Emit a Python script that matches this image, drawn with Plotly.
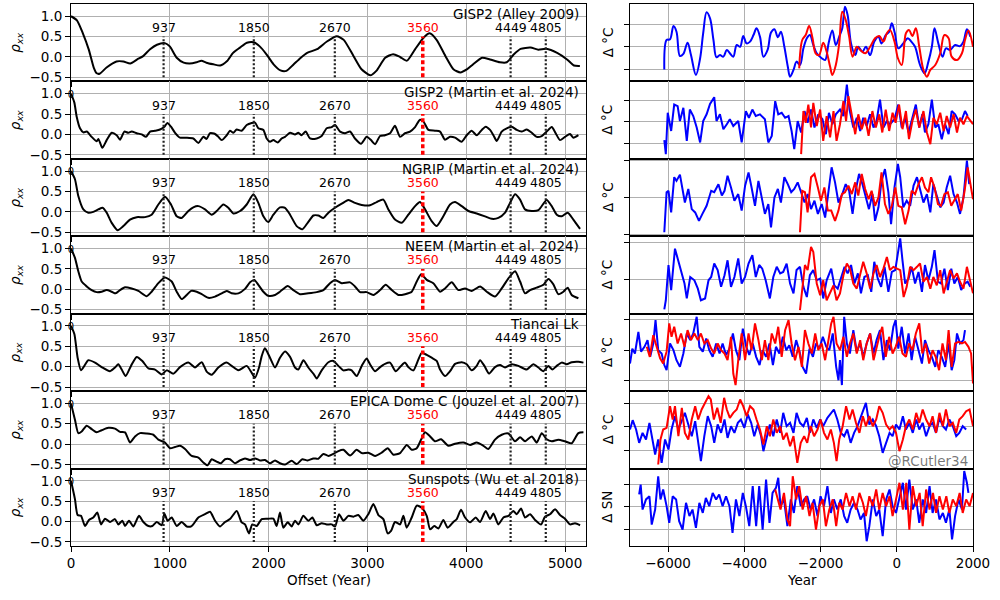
import plotly.graph_objects as go

# ---------------- data ----------------
periods = [937, 1850, 2670, 3560, 4449, 4805]
highlight_period = 3560
left_titles = ["GISP2 (Alley 2009)", "GISP2 (Martin et al. 2024)", "NGRIP (Martin et al. 2024)",
               "NEEM (Martin et al. 2024)", "Tiancai Lk", "EPICA Dome C (Jouzel et al. 2007)",
               "Sunspots (Wu et al 2018)"]
right_ylabels = ["Δ °C", "Δ °C", "Δ °C", "Δ °C", "Δ °C", "Δ °C", "Δ SN"]
left_xticks = [0, 1000, 2000, 3000, 4000, 5000]
left_yticks = [-0.5, 0.0, 0.5, 1.0]
right_xticks = [-6000, -4000, -2000, 0, 2000]
right_yticks = [-1, 0, 1]

# autocorrelation curves: (offset year, rho_xx)
gisp2_alley = [(0,1.00),(60,0.90),(120,0.58),(180,0.18),(230,-0.26),(260,-0.40),(290,-0.41),(360,-0.26),(460,-0.11),(530,-0.11),(600,-0.16),(670,-0.06),(730,0.02),(800,0.19),(870,0.30),(950,0.34),(1000,0.26),(1070,-0.02),(1140,-0.14),(1200,-0.16),(1270,-0.13),(1320,-0.09),(1370,-0.14),(1440,-0.18),(1510,-0.21),(1580,-0.10),(1640,0.10),(1710,0.23),(1780,0.35),(1850,0.36),(1910,0.26),(1980,0.06),(2050,-0.18),(2120,-0.33),(2180,-0.34),(2250,-0.19),(2320,-0.03),(2390,0.10),(2490,0.19),(2590,0.38),(2690,0.51),(2760,0.42),(2860,0.02),(2940,-0.30),(3030,-0.45),(3090,-0.34),(3180,-0.02),(3260,0.07),(3330,0.00),(3400,-0.09),(3480,0.18),(3570,0.48),(3630,0.58),(3700,0.42),(3790,0.02),(3870,-0.30),(3940,-0.38),(4010,-0.30),(4070,-0.18),(4160,-0.02),(4240,-0.06),(4340,-0.13),(4410,-0.13),(4480,0.06),(4550,0.20),(4650,0.23),(4730,0.18),(4810,0.20),(4920,0.10),(5020,-0.06),(5090,-0.21),(5150,-0.22)]
gisp2_martin = [(0,1.00),(34,0.78),(57,0.44),(91,0.15),(125,0.05),(159,0.07),(209,-0.06),(260,-0.17),(277,-0.11),(317,-0.33),(361,-0.14),(412,0.04),(462,-0.02),(496,-0.13),(540,0.07),(580,0.04),(614,0.07),(665,0.03),(715,0.00),(759,-0.06),(800,0.07),(850,0.09),(901,0.12),(945,0.19),(975,0.28),(1012,0.19),(1053,0.04),(1103,-0.08),(1171,-0.08),(1238,-0.10),(1289,-0.21),(1339,-0.06),(1373,-0.11),(1407,0.03),(1458,0.01),(1491,-0.06),(1525,-0.14),(1576,-0.02),(1609,0.09),(1643,0.04),(1677,0.12),(1727,0.09),(1778,0.23),(1829,0.28),(1862,0.29),(1896,0.15),(1947,0.11),(1980,-0.10),(2014,-0.18),(2048,-0.14),(2092,-0.20),(2132,-0.10),(2166,-0.06),(2217,0.04),(2267,0.00),(2301,0.04),(2334,-0.02),(2375,0.07),(2419,-0.10),(2487,-0.10),(2537,-0.04),(2588,0.15),(2638,0.18),(2672,0.23),(2723,0.07),(2773,0.03),(2824,0.07),(2874,-0.10),(2935,-0.23),(2992,-0.06),(3036,-0.14),(3077,-0.24),(3128,-0.04),(3178,-0.02),(3229,0.03),(3279,0.21),(3330,-0.06),(3381,0.03),(3431,0.07),(3482,0.18),(3532,0.36),(3566,0.32),(3617,0.11),(3684,0.09),(3735,0.07),(3785,-0.13),(3836,-0.06),(3887,-0.08),(3954,-0.18),(4005,-0.02),(4055,0.09),(4106,-0.02),(4157,0.11),(4197,0.19),(4241,0.11),(4275,-0.02),(4309,-0.16),(4359,0.07),(4410,0.15),(4460,0.19),(4511,0.11),(4561,0.07),(4612,0.12),(4663,0.04),(4713,-0.06),(4764,-0.04),(4814,0.07),(4865,0.18),(4905,0.03),(4949,-0.14),(4999,-0.06),(5050,0.01),(5084,-0.08),(5135,-0.02)]
ngrip = [(0,1.00),(40,0.80),(74,0.39),(125,0.06),(175,-0.02),(226,0.00),(277,0.06),(320,0.10),(361,-0.02),(412,-0.27),(472,-0.45),(530,-0.35),(597,-0.19),(665,-0.13),(749,-0.13),(816,-0.07),(884,0.18),(951,0.37),(1012,0.18),(1070,-0.11),(1120,-0.15),(1188,0.02),(1238,0.11),(1289,0.14),(1356,0.06),(1424,-0.07),(1474,0.02),(1542,0.18),(1592,0.10),(1643,-0.04),(1711,0.02),(1778,0.18),(1846,0.43),(1896,0.22),(1947,-0.11),(1997,-0.25),(2048,-0.07),(2115,0.11),(2166,0.10),(2217,-0.07),(2284,-0.35),(2341,-0.43),(2395,-0.27),(2453,-0.09),(2503,-0.09),(2554,-0.15),(2605,-0.02),(2672,0.10),(2740,0.20),(2807,0.29),(2874,0.22),(2942,0.17),(3026,0.16),(3094,0.24),(3161,0.30),(3212,0.06),(3279,-0.19),(3347,-0.27),(3414,-0.07),(3482,0.14),(3532,0.24),(3583,0.06),(3650,-0.23),(3701,-0.35),(3768,-0.11),(3836,0.18),(3887,0.24),(3954,0.14),(4022,0.02),(4106,-0.04),(4190,-0.11),(4258,-0.17),(4325,-0.15),(4393,-0.02),(4443,0.22),(4494,0.43),(4545,0.30),(4595,0.06),(4663,0.02),(4730,0.04),(4814,0.29),(4865,0.14),(4916,-0.07),(4966,-0.11),(5027,-0.02),(5084,-0.19),(5152,-0.42)]
neem = [(0,1.00),(40,0.77),(74,0.44),(108,0.19),(159,0.07),(209,-0.02),(260,-0.07),(310,-0.06),(361,-0.02),(412,-0.06),(452,-0.10),(496,-0.02),(547,0.05),(614,0.02),(682,-0.04),(766,-0.17),(816,-0.06),(884,0.15),(951,0.29),(1019,0.19),(1070,-0.06),(1120,-0.24),(1171,-0.14),(1215,-0.04),(1272,-0.06),(1323,-0.12),(1390,-0.21),(1458,-0.18),(1525,-0.10),(1576,-0.04),(1626,-0.10),(1694,-0.10),(1761,0.01),(1812,0.17),(1856,0.23),(1896,0.11),(1947,-0.06),(1997,-0.16),(2065,-0.14),(2115,-0.06),(2193,0.08),(2250,-0.02),(2318,-0.12),(2402,-0.10),(2487,-0.07),(2554,-0.02),(2621,0.15),(2672,0.23),(2740,0.15),(2824,0.17),(2874,0.07),(2925,-0.07),(2992,-0.07),(3060,-0.14),(3128,-0.02),(3185,0.11),(3246,-0.02),(3313,-0.14),(3381,-0.12),(3448,-0.06),(3499,0.19),(3543,0.37),(3600,0.23),(3667,0.15),(3735,-0.06),(3785,0.02),(3853,0.17),(3920,-0.02),(3988,0.02),(4055,-0.04),(4140,0.07),(4207,-0.06),(4291,-0.18),(4359,0.02),(4427,0.27),(4494,0.44),(4545,0.19),(4595,-0.10),(4646,-0.02),(4713,0.04),(4781,0.11),(4831,0.25),(4882,0.12),(4932,-0.12),(4983,-0.06),(5027,0.04),(5067,-0.14),(5135,-0.22)]
tiancai = [(0,1.00),(34,0.80),(67,0.22),(101,-0.09),(135,0.02),(175,0.16),(243,0.10),(310,-0.01),(395,-0.11),(445,-0.02),(479,0.06),(513,-0.07),(553,-0.23),(607,0.02),(665,0.24),(722,0.14),(783,-0.04),(850,-0.07),(918,-0.19),(968,-0.09),(1036,-0.17),(1103,-0.01),(1188,0.10),(1255,-0.02),(1323,0.11),(1373,-0.12),(1424,-0.20),(1491,-0.02),(1576,0.10),(1626,0.02),(1694,-0.09),(1778,0.02),(1829,-0.15),(1862,-0.27),(1903,-0.02),(1930,0.26),(1963,0.45),(2014,0.22),(2065,-0.02),(2115,0.22),(2166,0.37),(2217,0.24),(2267,-0.02),(2301,-0.07),(2352,0.16),(2402,-0.02),(2453,-0.17),(2487,-0.29),(2537,-0.09),(2605,0.11),(2655,0.14),(2706,0.02),(2757,-0.09),(2807,-0.07),(2841,-0.09),(2891,-0.23),(2942,0.02),(2992,0.20),(3026,0.06),(3077,-0.11),(3128,-0.01),(3178,0.07),(3229,0.10),(3286,-0.11),(3340,0.02),(3381,0.10),(3414,-0.01),(3465,-0.09),(3516,0.18),(3549,0.34),(3600,0.29),(3650,0.22),(3701,0.14),(3735,-0.07),(3785,-0.23),(3836,-0.11),(3887,0.07),(3954,0.11),(4005,0.06),(4055,-0.09),(4106,0.02),(4140,0.16),(4184,0.02),(4231,-0.17),(4291,-0.01),(4342,0.04),(4393,-0.02),(4460,0.06),(4528,0.02),(4612,-0.07),(4679,0.06),(4730,-0.02),(4781,-0.11),(4831,0.02),(4872,-0.07),(4916,0.02),(4966,0.10),(5017,0.06),(5067,0.11),(5135,0.12),(5186,0.10)]
epica = [(0,1.00),(40,0.60),(74,0.27),(108,0.31),(159,0.45),(209,0.37),(260,0.29),(310,0.34),(378,0.40),(445,0.38),(496,0.30),(547,0.29),(597,0.04),(648,0.19),(698,0.27),(766,0.26),(833,0.23),(884,0.11),(951,0.04),(1002,-0.10),(1053,-0.07),(1103,-0.04),(1154,-0.12),(1221,-0.29),(1289,-0.33),(1339,-0.45),(1383,-0.52),(1424,-0.37),(1474,-0.43),(1518,-0.47),(1559,-0.37),(1609,-0.37),(1660,-0.47),(1711,-0.40),(1761,-0.35),(1812,-0.39),(1862,-0.35),(1913,-0.40),(1964,-0.39),(2014,-0.47),(2065,-0.40),(2115,-0.47),(2166,-0.50),(2233,-0.41),(2284,-0.49),(2341,-0.37),(2395,-0.40),(2453,-0.35),(2503,-0.36),(2554,-0.24),(2605,-0.29),(2655,-0.24),(2706,-0.17),(2757,-0.14),(2824,-0.28),(2891,-0.14),(2942,-0.22),(3009,-0.21),(3077,-0.29),(3144,-0.21),(3205,-0.10),(3263,-0.26),(3330,-0.22),(3398,-0.02),(3448,-0.14),(3499,-0.10),(3543,0.11),(3583,0.29),(3634,0.19),(3684,0.07),(3745,0.12),(3819,-0.04),(3887,0.01),(3971,0.04),(4039,-0.02),(4106,0.04),(4174,-0.04),(4224,-0.12),(4291,0.11),(4359,0.23),(4427,0.26),(4494,0.07),(4545,0.17),(4595,0.07),(4663,0.19),(4713,0.04),(4764,0.27),(4814,0.12),(4865,0.07),(4932,0.11),(4999,0.07),(5067,0.02),(5135,0.27),(5186,0.29)]
sunspots = [(0,1.00),(40,0.55),(67,0.16),(101,0.14),(142,-0.11),(182,0.04),(226,0.10),(266,0.22),(304,-0.07),(344,0.07),(395,-0.01),(445,0.06),(479,-0.07),(520,0.02),(547,-0.11),(587,0.02),(631,-0.12),(688,0.14),(732,-0.01),(783,-0.11),(823,-0.11),(867,-0.01),(918,-0.09),(945,0.20),(978,0.02),(1019,0.10),(1070,-0.11),(1120,-0.01),(1171,-0.12),(1221,-0.11),(1289,0.10),(1356,0.18),(1407,0.24),(1458,0.02),(1508,-0.12),(1559,-0.01),(1609,0.06),(1677,0.26),(1727,-0.02),(1761,-0.07),(1801,-0.29),(1835,-0.07),(1879,-0.11),(1930,0.06),(1997,0.07),(2048,0.07),(2081,-0.11),(2115,0.22),(2149,-0.15),(2193,-0.02),(2233,-0.12),(2267,0.02),(2301,-0.07),(2352,0.14),(2402,0.02),(2443,0.10),(2487,-0.09),(2537,-0.04),(2588,-0.07),(2638,-0.07),(2672,-0.12),(2713,0.18),(2757,0.02),(2807,0.14),(2858,0.12),(2908,0.16),(2959,0.02),(3009,0.18),(3060,0.43),(3111,0.16),(3161,0.06),(3205,-0.29),(3239,-0.23),(3279,-0.01),(3330,-0.07),(3364,0.14),(3397,-0.15),(3448,0.10),(3499,0.39),(3549,0.34),(3600,0.14),(3634,-0.19),(3677,-0.11),(3718,-0.17),(3768,0.04),(3812,-0.15),(3870,-0.01),(3904,0.06),(3947,0.29),(3988,0.10),(4039,-0.02),(4096,0.10),(4140,-0.01),(4197,0.26),(4241,0.06),(4275,0.20),(4325,-0.07),(4376,0.10),(4427,0.14),(4477,0.26),(4511,0.18),(4555,0.32),(4595,0.10),(4646,0.18),(4696,0.04),(4757,-0.07),(4797,0.12),(4848,0.18),(4899,0.30),(4949,0.16),(4999,0.07),(5050,-0.07),(5101,-0.04),(5152,-0.09)]

# time series (year, anomaly in tick units): blue = record, red = shifted copy
r1_blue = [(-6100,-1.00),(-6040,0.31),(-5950,0.34),(-5860,0.93),(-5780,0.68),(-5690,-0.40),(-5600,-0.31),(-5490,0.19),(-5400,-0.36),(-5270,-1.24),(-5160,-0.50),(-5080,0.61),(-4990,1.54),(-4900,1.27),(-4810,0.31),(-4730,-0.46),(-4640,-0.36),(-4550,-0.43),(-4460,-0.13),(-4380,-0.28),(-4290,-0.43),(-4200,0.09),(-4110,0.01),(-4030,0.49),(-3940,0.16),(-3850,0.24),(-3760,0.53),(-3680,0.83),(-3590,0.46),(-3500,-0.43),(-3390,-0.13),(-3300,0.64),(-3210,0.79),(-3120,0.43),(-3040,0.68),(-2950,0.01),(-2860,-0.87),(-2800,-1.32),(-2710,-1.02),(-2630,-0.65),(-2540,-0.80),(-2450,-0.06),(-2360,0.39),(-2280,0.53),(-2190,0.09),(-2100,-0.28),(-1970,-0.50),(-1880,-0.58),(-1790,0.16),(-1690,0.73),(-1600,0.09),(-1510,0.46),(-1430,0.83),(-1360,1.79),(-1290,1.42),(-1200,0.16),(-1090,-0.36),(-1010,0.01),(-900,-0.21),(-810,0.01),(-700,-0.36),(-590,0.24),(-480,0.46),(-400,0.16),(-290,0.53),(-200,0.68),(-130,1.05),(-50,0.61),(40,-0.06),(170,0.16),(290,0.39),(380,0.24),(480,0.01),(610,-0.80),(730,-1.17),(830,-0.65),(920,0.01),(990,0.83),(1090,0.16),(1200,-0.43),(1290,-0.06),(1400,-0.13),(1530,0.09),(1660,0.04),(1750,0.24),(1840,0.79),(1930,0.46)]
r1_red = [(-2560,-0.95),(-2480,0.31),(-2390,0.53),(-2300,0.93),(-2210,0.39),(-2130,-0.28),(-2040,-0.36),(-1930,0.19),(-1840,-0.21),(-1750,-0.87),(-1690,-1.24),(-1600,-0.80),(-1510,0.16),(-1430,1.57),(-1340,1.20),(-1250,0.46),(-1160,-0.43),(-1050,0.01),(-960,-0.13),(-830,-0.28),(-700,0.01),(-570,0.39),(-460,0.49),(-350,0.24),(-260,0.61),(-180,0.76),(-60,0.24),(30,-0.50),(130,-0.80),(240,0.61),(320,0.76),(410,0.49),(500,0.83),(590,0.01),(700,-1.02),(790,-1.32),(880,-1.02),(1010,-0.80),(1140,-0.28),(1250,0.53),(1360,0.39),(1440,-0.43),(1580,-0.58),(1710,-0.28),(1790,0.31),(1880,0.73),(2000,0.01)]
r2_blue = [(-6100,-0.85),(-6060,-1.50),(-6010,0.41),(-5920,-0.43),(-5840,0.79),(-5750,0.72),(-5690,0.03),(-5600,0.64),(-5510,-0.89),(-5430,0.56),(-5340,0.26),(-5250,-0.27),(-5160,-0.96),(-5080,0.03),(-4990,0.34),(-4900,0.82),(-4790,1.13),(-4730,0.03),(-4640,0.34),(-4550,-0.35),(-4460,-0.12),(-4380,0.11),(-4290,-0.20),(-4160,0.03),(-4070,-0.96),(-3960,0.49),(-3880,0.18),(-3790,0.56),(-3700,0.26),(-3590,0.34),(-3460,0.11),(-3370,-0.96),(-3280,-0.66),(-3190,0.95),(-3110,0.34),(-3020,0.41),(-2930,0.18),(-2840,0.26),(-2760,-0.43),(-2690,-1.27),(-2600,0.03),(-2510,-0.50),(-2420,0.49),(-2340,-0.05),(-2250,0.56),(-2160,-0.27),(-2060,0.34),(-1950,0.11),(-1860,-0.58),(-1780,0.41),(-1690,-0.12),(-1600,0.34),(-1490,0.56),(-1400,0.26),(-1310,1.71),(-1240,0.56),(-1140,-0.27),(-1050,0.18),(-960,-0.43),(-880,0.18),(-790,-0.20),(-700,0.34),(-610,-0.27),(-530,0.03),(-440,1.02),(-350,-0.27),(-260,0.03),(-180,-0.12),(-60,0.11),(40,0.79),(130,-0.27),(220,0.18),(310,-0.50),(390,0.03),(500,0.79),(590,-0.27),(670,0.34),(740,-0.50),(830,-0.12),(920,1.02),(1010,-0.27),(1090,-0.12),(1180,-0.81),(1270,-0.12),(1360,-0.58),(1440,0.49),(1530,0.34),(1620,0.03),(1710,0.11),(1790,0.49),(1860,0.26)]
r2_red = [(-2510,-1.50),(-2450,0.49),(-2390,-0.05),(-2320,0.79),(-2250,-0.27),(-2190,0.87),(-2100,-0.20),(-2010,0.56),(-1930,-0.89),(-1840,0.26),(-1750,-0.73),(-1660,0.49),(-1580,-0.89),(-1490,-0.12),(-1400,0.95),(-1330,0.03),(-1270,1.18),(-1180,0.34),(-1090,-0.58),(-1010,0.34),(-920,-0.35),(-830,0.18),(-740,-0.66),(-640,0.49),(-550,-0.27),(-460,0.34),(-380,-0.50),(-290,0.56),(-200,-0.43),(-110,0.41),(-30,-0.05),(60,0.79),(150,-0.35),(240,0.49),(320,-0.81),(410,0.03),(500,0.56),(590,-0.27),(700,0.49),(790,-0.50),(880,-1.04),(960,0.18),(1050,-0.12),(1140,0.41),(1230,-0.43),(1310,0.26),(1400,-0.27),(1490,0.34),(1580,-0.50),(1660,0.18),(1750,-0.12),(1840,0.26),(1930,0.03),(2000,-0.12)]
r3_blue = [(-6100,-0.95),(-6040,0.14),(-5990,0.18),(-5920,-0.41),(-5840,0.55),(-5780,0.45),(-5690,0.62),(-5630,0.27),(-5560,-0.14),(-5470,0.23),(-5380,-0.32),(-5290,-0.41),(-5190,-0.64),(-5100,-0.45),(-4990,-0.23),(-4870,0.18),(-4790,0.14),(-4680,0.36),(-4590,0.05),(-4520,0.18),(-4440,0.59),(-4350,0.27),(-4260,-0.09),(-4160,0.09),(-4070,-0.36),(-3980,0.32),(-3890,0.68),(-3810,0.27),(-3720,-0.23),(-3630,0.45),(-3540,0.00),(-3460,-0.45),(-3370,-0.18),(-3300,-0.82),(-3210,0.00),(-3120,0.23),(-3040,-0.14),(-2950,0.55),(-2860,0.36),(-2770,0.14),(-2690,0.23),(-2600,0.41),(-2510,0.14),(-2420,-0.14),(-2340,0.09),(-2250,-0.32),(-2160,-0.09),(-2070,-0.45),(-1970,-0.18),(-1880,-0.55),(-1790,0.18),(-1710,0.82),(-1620,0.41),(-1530,-0.14),(-1430,0.09),(-1340,0.36),(-1250,0.18),(-1160,-0.45),(-1080,0.18),(-990,0.64),(-900,0.36),(-810,0.00),(-730,-0.32),(-640,0.09),(-570,-0.64),(-480,-0.27),(-400,0.45),(-310,0.77),(-220,0.14),(-150,-0.73),(-60,0.27),(30,0.91),(90,0.55),(170,-0.27),(260,-0.09),(350,-0.23),(440,0.32),(530,0.55),(610,0.23),(700,-0.14),(790,0.09),(880,-0.41),(960,0.36),(1050,0.05),(1140,-0.27),(1230,-0.14),(1310,0.27),(1400,0.59),(1490,0.09),(1580,-0.14),(1660,-0.45),(1750,0.00),(1840,1.00),(1900,0.36)]
r3_red = [(-2540,-0.95),(-2480,0.18),(-2410,0.14),(-2340,-0.41),(-2250,0.55),(-2160,0.64),(-2070,0.27),(-1990,-0.09),(-1900,0.27),(-1810,-0.36),(-1720,-0.36),(-1620,-0.64),(-1530,-0.36),(-1440,0.09),(-1360,0.14),(-1270,0.32),(-1180,0.09),(-1090,0.41),(-1010,0.05),(-920,0.64),(-830,0.23),(-740,-0.05),(-660,0.18),(-570,-0.23),(-480,0.00),(-400,0.68),(-310,-0.18),(-220,-0.45),(-130,-0.23),(-40,0.27),(40,-0.23),(130,-0.27),(220,-0.73),(310,-0.36),(390,0.18),(480,0.09),(570,0.36),(660,0.55),(740,0.27),(830,0.14),(900,0.55),(990,0.27),(1080,-0.18),(1160,-0.23),(1250,0.09),(1340,0.14),(1430,-0.23),(1510,-0.09),(1600,0.09),(1690,-0.36),(1780,0.18),(1860,0.82),(1930,0.36),(2000,-0.05)]
r4_blue = [(-6100,-0.83),(-6060,-0.58),(-5990,0.39),(-5920,-0.30),(-5820,0.84),(-5730,0.52),(-5660,0.25),(-5570,-0.12),(-5510,-0.53),(-5420,0.06),(-5310,-0.03),(-5220,-0.26),(-5140,-0.58),(-5030,-0.53),(-4940,-0.03),(-4870,0.06),(-4790,0.43),(-4700,0.25),(-4610,-0.21),(-4520,0.11),(-4440,0.52),(-4350,-0.21),(-4260,0.06),(-4160,0.57),(-4070,-0.12),(-3980,0.06),(-3890,0.43),(-3790,0.66),(-3700,0.06),(-3610,0.39),(-3530,0.29),(-3440,-0.03),(-3330,-0.53),(-3240,0.06),(-3150,0.34),(-3060,0.16),(-2980,0.20),(-2890,0.43),(-2800,-0.12),(-2710,-0.39),(-2630,0.25),(-2540,0.34),(-2450,-0.21),(-2360,-0.49),(-2280,0.11),(-2190,0.25),(-2100,-0.03),(-2010,0.02),(-1930,-0.53),(-1840,-0.03),(-1720,0.29),(-1640,-0.17),(-1550,-0.26),(-1460,0.06),(-1370,0.34),(-1290,0.16),(-1200,0.39),(-1110,-0.12),(-1020,0.16),(-940,-0.39),(-850,0.06),(-760,0.11),(-670,-0.35),(-590,0.48),(-500,0.02),(-410,-0.21),(-320,0.34),(-220,-0.35),(-130,0.20),(-40,0.25),(30,0.71),(90,1.12),(150,0.52),(220,-0.12),(310,0.02),(390,0.34),(480,-0.12),(570,0.20),(660,-0.35),(740,0.39),(830,-0.03),(920,0.34),(990,0.80),(1080,-0.07),(1160,-0.12),(1250,0.29),(1340,-0.30),(1430,0.29),(1510,-0.12),(1600,0.06),(1690,-0.30),(1780,-0.12),(1860,-0.07),(1930,-0.21)]
r4_red = [(-2540,-0.85),(-2480,-0.21),(-2410,0.39),(-2340,0.25),(-2250,0.89),(-2190,0.75),(-2100,-0.12),(-2010,-0.44),(-1930,-0.03),(-1840,-0.58),(-1750,-0.39),(-1660,-0.17),(-1580,-0.58),(-1490,-0.39),(-1400,0.11),(-1310,0.43),(-1230,0.29),(-1140,-0.12),(-1050,-0.26),(-960,0.16),(-880,0.48),(-790,0.16),(-700,-0.26),(-610,0.16),(-530,0.39),(-440,0.06),(-350,0.29),(-260,0.61),(-180,0.25),(-90,0.34),(0,0.29),(90,0.25),(180,-0.49),(260,-0.21),(350,0.34),(440,0.25),(530,0.34),(610,0.43),(700,-0.07),(790,0.06),(880,-0.26),(960,0.06),(1050,-0.17),(1140,0.25),(1230,-0.39),(1310,-0.07),(1400,0.25),(1490,0.02),(1580,0.16),(1660,-0.07),(1750,-0.26),(1840,0.34),(1930,-0.03),(2000,-0.39)]
r5_blue = [(-7000,-0.44),(-6940,0.05),(-6870,-0.11),(-6780,0.60),(-6710,-0.05),(-6620,0.11),(-6540,0.33),(-6470,-0.22),(-6390,0.22),(-6330,0.99),(-6260,0.00),(-6170,-0.11),(-6100,-0.49),(-6040,-0.66),(-5950,0.22),(-5860,0.00),(-5780,-0.33),(-5690,-0.55),(-5600,-0.11),(-5510,0.55),(-5420,0.33),(-5340,0.55),(-5250,1.10),(-5180,0.11),(-5090,-0.05),(-5000,0.38),(-4920,0.00),(-4830,-0.22),(-4740,0.22),(-4650,-0.11),(-4570,0.22),(-4480,-0.16),(-4390,0.05),(-4300,0.55),(-4220,0.00),(-4130,-0.33),(-4040,0.71),(-3950,0.11),(-3870,-0.16),(-3780,0.22),(-3690,-0.22),(-3600,-0.49),(-3520,0.00),(-3430,-0.22),(-3340,0.22),(-3250,-0.49),(-3170,0.11),(-3080,-0.11),(-2990,0.44),(-2900,0.00),(-2820,0.16),(-2730,-0.22),(-2640,0.33),(-2550,-0.05),(-2470,-0.55),(-2380,-0.77),(-2290,0.05),(-2200,-0.22),(-2120,0.22),(-2030,0.05),(-1940,0.44),(-1850,0.11),(-1770,0.00),(-1680,0.55),(-1590,-0.55),(-1530,-0.99),(-1490,-0.33),(-1440,-1.15),(-1380,1.10),(-1310,0.22),(-1230,-0.11),(-1140,0.66),(-1050,-0.05),(-960,0.22),(-880,-0.22),(-790,0.22),(-700,0.55),(-610,-0.11),(-530,0.33),(-440,0.66),(-350,-0.33),(-260,0.33),(-180,0.00),(-90,0.77),(-30,0.99),(40,0.05),(130,0.77),(220,-0.11),(310,0.55),(390,-0.33),(480,0.44),(570,-0.05),(660,-0.44),(740,0.33),(830,0.00),(920,-0.22),(1010,-0.55),(1090,0.00),(1180,-0.22),(1270,-0.55),(1360,0.22),(1440,-0.66),(1510,-0.33),(1580,0.55),(1660,0.22),(1750,0.33),(1790,0.66)]
r5_red = [(-6560,0.11),(-6480,-0.22),(-6390,0.49),(-6300,0.11),(-6210,-0.27),(-6130,-0.44),(-6040,-0.05),(-5970,0.88),(-5910,0.44),(-5840,0.77),(-5750,0.22),(-5660,0.55),(-5570,0.11),(-5490,0.66),(-5400,0.33),(-5310,0.55),(-5220,0.33),(-5140,0.55),(-5050,0.22),(-4960,0.33),(-4870,0.05),(-4790,-0.11),(-4700,0.22),(-4610,0.00),(-4520,-0.11),(-4440,-0.33),(-4350,0.44),(-4290,-0.77),(-4230,-1.15),(-4160,-0.33),(-4070,0.55),(-3980,-0.33),(-3890,0.55),(-3810,0.00),(-3720,0.88),(-3630,0.33),(-3540,-0.33),(-3460,0.33),(-3370,-0.33),(-3280,0.55),(-3190,0.22),(-3110,0.77),(-3020,-0.22),(-2930,0.66),(-2840,0.99),(-2760,0.22),(-2670,-0.33),(-2580,0.11),(-2490,-0.55),(-2410,0.66),(-2320,0.22),(-2230,-0.11),(-2140,0.55),(-2060,0.00),(-1970,0.22),(-1880,-0.33),(-1790,0.44),(-1720,0.88),(-1660,1.10),(-1580,0.22),(-1490,0.00),(-1400,0.44),(-1310,-0.22),(-1230,0.22),(-1140,0.55),(-1050,-0.11),(-960,0.33),(-880,-0.33),(-790,0.22),(-700,0.55),(-610,-0.33),(-530,0.11),(-440,0.55),(-380,0.77),(-290,-0.22),(-200,0.44),(-110,-0.11),(-30,0.11),(60,0.44),(150,-0.11),(240,-0.22),(320,0.22),(410,0.00),(500,0.55),(590,0.88),(670,-0.11),(760,0.22),(850,-0.44),(940,0.00),(1020,-0.22),(1110,-0.66),(1200,0.22),(1290,-0.33),(1360,0.66),(1440,-0.55),(1530,0.22),(1620,0.27),(1710,0.22),(1790,0.27),(1880,0.11),(1950,-0.11),(2000,-1.10)]
r6_blue = [(-7000,-0.11),(-6930,0.28),(-6840,-0.11),(-6760,-0.67),(-6670,-0.25),(-6580,-0.53),(-6490,0.17),(-6410,-0.60),(-6340,-1.16),(-6260,-0.53),(-6170,-1.51),(-6080,-0.53),(-5990,-0.95),(-5910,-0.11),(-5820,0.45),(-5730,-0.11),(-5640,0.31),(-5560,0.59),(-5470,0.10),(-5380,-0.39),(-5290,0.24),(-5210,-0.67),(-5140,-1.44),(-5050,-0.39),(-4960,0.45),(-4870,0.03),(-4790,-0.67),(-4700,0.10),(-4610,-0.25),(-4520,0.31),(-4440,-0.46),(-4350,0.03),(-4260,-0.25),(-4170,0.17),(-4090,0.31),(-4000,-0.04),(-3910,0.52),(-3820,0.17),(-3740,-0.39),(-3650,0.10),(-3560,-0.39),(-3500,-1.02),(-3410,-0.39),(-3330,0.10),(-3240,-0.39),(-3150,0.31),(-3060,-0.25),(-2980,0.59),(-2890,0.03),(-2800,0.17),(-2710,-0.25),(-2630,0.59),(-2540,0.17),(-2450,0.03),(-2360,0.38),(-2280,-0.25),(-2190,0.31),(-2100,-0.04),(-2010,0.31),(-1930,0.03),(-1820,0.38),(-1730,0.59),(-1650,0.73),(-1560,0.31),(-1470,-0.25),(-1380,-0.39),(-1300,-0.11),(-1210,-0.67),(-1120,-0.25),(-1030,0.03),(-950,0.38),(-860,0.73),(-810,1.01),(-720,0.10),(-630,0.31),(-540,0.03),(-460,-0.39),(-370,-1.09),(-280,-0.67),(-190,-0.25),(-110,-0.39),(-20,0.10),(70,-0.11),(160,0.45),(240,-0.11),(330,0.17),(420,-0.25),(510,0.31),(590,-0.11),(680,0.17),(770,-0.39),(860,0.03),(940,0.17),(1030,-0.25),(1120,0.38),(1210,0.03),(1290,-0.11),(1380,0.31),(1470,0.03),(1560,-0.39),(1640,-0.25),(1730,0.03),(1820,-0.11)]
r6_red = [(-6260,-1.58),(-6200,-0.53),(-6130,-0.11),(-6040,-0.04),(-5950,0.87),(-5880,0.31),(-5820,0.87),(-5730,-0.39),(-5640,0.80),(-5560,-0.25),(-5470,-0.53),(-5380,0.31),(-5290,0.87),(-5210,0.31),(-5120,0.73),(-5030,1.01),(-4940,1.29),(-4880,1.15),(-4800,0.31),(-4710,0.80),(-4620,0.17),(-4530,1.22),(-4460,0.73),(-4380,0.38),(-4290,0.59),(-4200,0.73),(-4110,1.15),(-4030,0.87),(-3940,0.45),(-3850,0.87),(-3760,0.73),(-3680,0.31),(-3590,-0.11),(-3500,-0.74),(-3410,0.03),(-3330,-0.39),(-3240,0.31),(-3150,-0.25),(-3060,0.03),(-2980,-0.53),(-2890,-0.25),(-2800,-0.81),(-2710,-0.39),(-2610,-1.51),(-2520,-0.67),(-2430,-0.39),(-2350,-0.67),(-2260,0.03),(-2170,-0.39),(-2080,-0.11),(-2000,0.31),(-1910,-0.25),(-1820,-0.53),(-1730,-0.11),(-1650,-0.67),(-1580,-1.44),(-1510,-0.53),(-1420,0.03),(-1330,0.87),(-1240,0.31),(-1160,0.73),(-1070,0.17),(-980,-0.25),(-890,0.45),(-810,0.03),(-720,0.45),(-630,0.03),(-540,0.31),(-460,0.87),(-370,0.59),(-280,0.10),(-190,-0.11),(-110,0.03),(-20,-0.25),(70,-1.02),(160,-0.53),(240,0.03),(330,0.31),(420,-0.11),(510,0.59),(590,0.17),(680,0.73),(770,0.31),(860,0.03),(940,0.45),(1030,-0.25),(1120,0.59),(1210,0.03),(1290,0.73),(1380,0.03),(1470,0.17),(1560,-0.25),(1640,0.31),(1730,0.45),(1820,0.66),(1910,0.73),(2000,0.03)]
r7_blue = [(-6760,0.55),(-6720,0.99),(-6670,-0.12),(-6580,0.33),(-6490,0.47),(-6430,-0.79),(-6340,-0.12),(-6260,1.36),(-6200,0.33),(-6130,0.77),(-6040,0.03),(-5970,-0.71),(-5880,0.47),(-5790,0.33),(-5710,-0.64),(-5620,-1.01),(-5530,0.18),(-5440,-0.41),(-5360,-0.12),(-5270,-0.93),(-5180,0.18),(-5090,-0.27),(-5010,0.40),(-4920,0.03),(-4830,0.62),(-4740,0.33),(-4660,0.55),(-4570,0.03),(-4480,0.47),(-4390,0.03),(-4310,-1.16),(-4220,0.33),(-4130,-0.41),(-4040,0.62),(-3960,0.03),(-3870,-0.86),(-3780,0.92),(-3690,-0.86),(-3610,0.92),(-3520,-1.01),(-3430,1.21),(-3340,-0.71),(-3260,0.62),(-3170,0.84),(-3110,1.29),(-3050,0.03),(-2960,0.33),(-2870,-0.86),(-2780,0.33),(-2700,-0.27),(-2610,0.92),(-2520,0.03),(-2430,0.33),(-2350,0.47),(-2260,-0.12),(-2170,0.33),(-2080,-0.41),(-2000,0.47),(-1910,0.03),(-1820,0.92),(-1730,-0.27),(-1650,0.33),(-1560,-0.12),(-1470,0.33),(-1380,-0.41),(-1300,-0.71),(-1210,-0.12),(-1120,0.18),(-1030,-0.12),(-950,-0.56),(-860,-0.27),(-790,-1.53),(-720,-0.86),(-630,0.33),(-540,-0.41),(-460,-0.12),(-370,-1.30),(-280,0.33),(-190,0.77),(-110,0.03),(-20,-0.27),(70,0.47),(160,1.07),(240,-0.12),(330,1.21),(420,-0.12),(510,0.33),(590,-0.71),(680,0.33),(770,-0.27),(860,0.92),(940,-0.27),(1030,0.33),(1120,-0.56),(1210,-0.27),(1290,-0.71),(1380,-0.12),(1450,-1.45),(1530,-0.41),(1620,0.33),(1710,-0.12),(1770,1.59),(1840,1.07),(1880,0.62)]
r7_red = [(-3190,0.77),(-3130,0.33),(-3050,-0.12),(-2960,0.62),(-2870,-0.56),(-2800,-0.86),(-2730,1.36),(-2640,0.33),(-2560,0.92),(-2470,-0.12),(-2380,0.47),(-2290,-0.41),(-2210,0.18),(-2120,-1.01),(-2030,0.03),(-1940,0.33),(-1860,-0.86),(-1770,-0.12),(-1680,0.33),(-1590,-0.86),(-1510,0.18),(-1420,-0.12),(-1330,0.62),(-1240,0.03),(-1160,0.47),(-1070,-0.12),(-980,0.62),(-890,0.18),(-810,-0.41),(-720,0.47),(-630,0.03),(-540,0.77),(-460,-0.12),(-370,0.62),(-280,0.03),(-190,0.47),(-110,-0.41),(-20,0.33),(70,1.07),(160,-0.12),(250,1.07),(330,-1.01),(420,0.92),(510,0.03),(600,0.62),(680,-0.86),(770,0.77),(860,-0.12),(950,0.62),(1030,-0.27),(1120,0.47),(1210,-0.12),(1300,0.47),(1380,-0.27),(1470,0.33),(1560,0.03),(1650,0.62),(1730,-0.27),(1820,0.33),(1910,0.03),(2000,0.62)]

left_series = [gisp2_alley, gisp2_martin, ngrip, neem, tiancai, epica, sunspots]
right_series = [(r1_blue, r1_red), (r2_blue, r2_red), (r3_blue, r3_red), (r4_blue, r4_red),
                (r5_blue, r5_red), (r6_blue, r6_red), (r7_blue, r7_red)]

# ---------------- layout geometry (pixels) ----------------
W, H = 1000, 600
PANEL_TOP, PANEL_H = 4.0, 77.43
LEFT_X = (71, 586)
RIGHT_X = (630, 973)
left_xrange = [0, 5212]
left_yrange = [-0.6, 1.3]
right_xrange = [-7000, 2000]
right_yranges = [[-1.53, 1.91], [-1.72, 1.86], [-1.06, 1.05], [-0.95, 1.18],
                 [-1.35, 1.2], [-1.75, 1.5], [-1.74, 1.7]]
FONT = "DejaVu Sans"
FS = 13.5

fig = go.Figure()


def axname(n):
    return "" if n == 1 else str(n)


def ydomain(k):
    top = PANEL_TOP + PANEL_H * k
    return [1 - (top + PANEL_H) / H, 1 - top / H]


base_axis = dict(showline=True, mirror=True, linecolor="black", linewidth=1,
                 ticks="outside", ticklen=5, tickwidth=1, tickcolor="black",
                 showgrid=True, gridcolor="#b0b0b0", gridwidth=1, zeroline=False,
                 automargin=False,
                 tickfont=dict(family=FONT, size=FS, color="black"), fixedrange=True)

annotations = []
layout_axes = {}

for k in range(7):
    nl = 2 * k + 1
    nr = 2 * k + 2
    d = ydomain(k)
    # ---- left panel
    xa, ya = "x" + axname(nl), "y" + axname(nl)
    if k > 0:
        fig.add_trace(go.Scatter(x=[0], y=[0.96], mode="text", text=["0"], xaxis=xa, yaxis=ya,
                                 textposition="middle center",
                                 textfont=dict(family=FONT, size=10, color="black"),
                                 cliponaxis=False, showlegend=False, hoverinfo="skip"))
    series = left_series[k]
    fig.add_trace(go.Scatter(x=[p[0] for p in series], y=[p[1] for p in series], mode="lines",
                             line=dict(color="black", width=2, shape="spline", smoothing=0.6),
                             xaxis=xa, yaxis=ya, showlegend=False, hoverinfo="skip"))
    for p in periods:
        hl = (p == highlight_period)
        fig.add_trace(go.Scatter(x=[p, p], y=[-0.5, 0.5], mode="lines",
                                 line=dict(color="red" if hl else "#222222",
                                           width=3.5 if hl else 2.2,
                                           dash="4px,2.5px" if hl else "2px,2px"),
                                 xaxis=xa, yaxis=ya, showlegend=False, hoverinfo="skip"))
        annotations.append(dict(x=p, y=0.72, xref=xa, yref=ya, text=str(p), showarrow=False,
                                xanchor="center", yanchor="middle",
                                font=dict(family=FONT, size=12.5, color="red" if hl else "black")))
    annotations.append(dict(x=5165, y=1.05, xref=xa, yref=ya, text=left_titles[k], showarrow=False,
                            xanchor="right", yanchor="middle",
                            font=dict(family=FONT, size=FS, color="black")))
    layout_axes["xaxis" + axname(nl)] = dict(base_axis, domain=[LEFT_X[0] / W, LEFT_X[1] / W],
                                             range=left_xrange, tickvals=left_xticks,
                                             showticklabels=(k == 6), anchor=ya)
    layout_axes["yaxis" + axname(nl)] = dict(base_axis, domain=d, range=left_yrange,
                                             tickvals=left_yticks, tickformat=".1f", anchor=xa)
    annotations.append(dict(x=16 / W, y=(d[0] + d[1]) / 2, xref="paper", yref="paper",
                            text="<i>ρ</i><sub><i>xx</i></sub>", showarrow=False, textangle=-90,
                            xanchor="center", yanchor="middle",
                            font=dict(family=FONT, size=FS, color="black")))

    # ---- right panel
    xa, ya = "x" + axname(nr), "y" + axname(nr)
    blue, red = right_series[k]
    shape = "spline" if k == 0 else "linear"
    fig.add_trace(go.Scatter(x=[p[0] for p in blue], y=[p[1] for p in blue], mode="lines",
                             line=dict(color="blue", width=2, shape=shape), xaxis=xa, yaxis=ya,
                             showlegend=False, hoverinfo="skip"))
    fig.add_trace(go.Scatter(x=[p[0] for p in red], y=[p[1] for p in red], mode="lines",
                             line=dict(color="red", width=2, shape=shape), xaxis=xa, yaxis=ya,
                             showlegend=False, hoverinfo="skip"))
    layout_axes["xaxis" + axname(nr)] = dict(base_axis, domain=[RIGHT_X[0] / W, RIGHT_X[1] / W],
                                             range=right_xrange, tickvals=right_xticks,
                                             showticklabels=(k == 6), anchor=ya)
    layout_axes["yaxis" + axname(nr)] = dict(base_axis, domain=d, range=right_yranges[k],
                                             tickvals=right_yticks, showticklabels=False, anchor=xa)
    annotations.append(dict(x=607.5 / W, y=(d[0] + d[1]) / 2, xref="paper", yref="paper",
                            text=right_ylabels[k], showarrow=False, textangle=-90,
                            xanchor="center", yanchor="middle",
                            font=dict(family=FONT, size=FS, color="black")))

# signature
annotations.append(dict(x=970 / W, y=1 - 461 / H, xref="paper", yref="paper", text="@RCutler34",
                        showarrow=False, xanchor="right", yanchor="middle",
                        font=dict(family=FONT, size=FS, color="rgba(0,0,0,0.55)")))
# x-axis titles
annotations.append(dict(x=(LEFT_X[0] + LEFT_X[1]) / 2 / W, y=1 - 580 / H, xref="paper", yref="paper",
                        text="Offset (Year)", showarrow=False, xanchor="center", yanchor="middle",
                        font=dict(family=FONT, size=FS, color="black")))
annotations.append(dict(x=(RIGHT_X[0] + RIGHT_X[1]) / 2 / W, y=1 - 580 / H, xref="paper", yref="paper",
                        text="Year", showarrow=False, xanchor="center", yanchor="middle",
                        font=dict(family=FONT, size=FS, color="black")))

fig.update_layout(template="none", width=W, height=H, autosize=False,
                  margin=dict(l=0, r=0, t=0, b=0, pad=0, autoexpand=False),
                  plot_bgcolor="white", paper_bgcolor="white", showlegend=False,
                  font=dict(family=FONT, size=FS, color="black"),
                  annotations=annotations, **layout_axes)

fig.write_html("out.html", config={"responsive": False, "displayModeBar": False},
               post_script="document.body.style.margin='0';document.body.style.overflow='hidden';")
